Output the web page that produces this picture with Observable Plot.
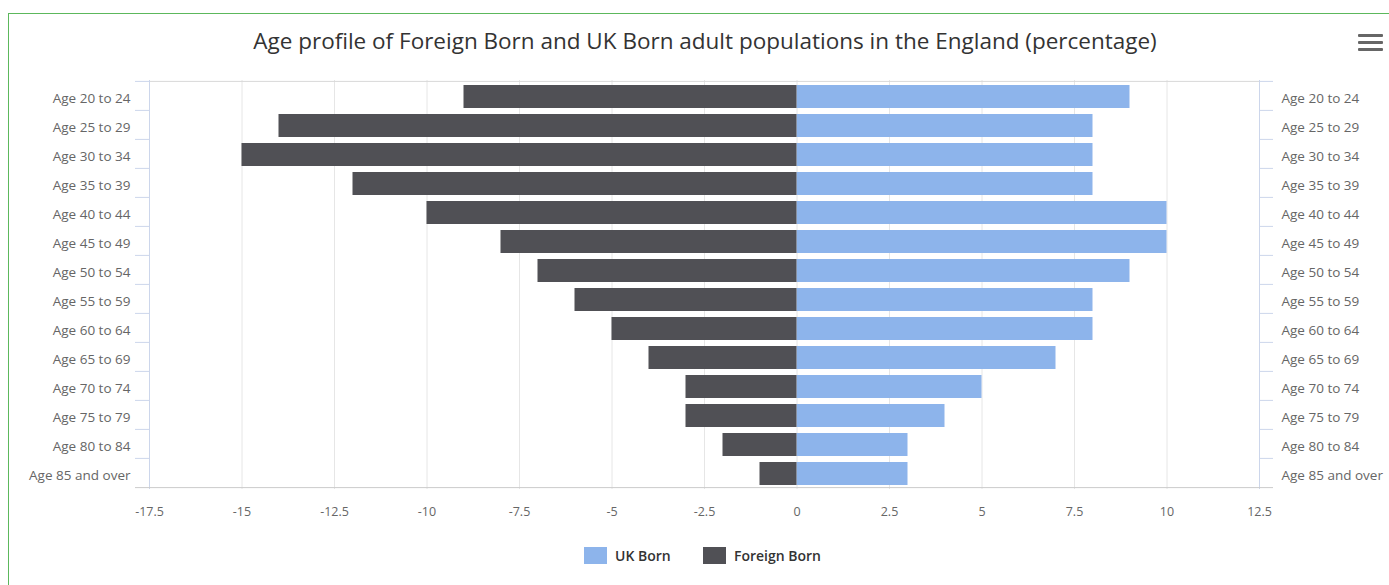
<!DOCTYPE html>
<html>
<head>
<meta charset="utf-8">
<script src="https://cdn.jsdelivr.net/npm/d3@7"></script>
<script src="https://cdn.jsdelivr.net/npm/@observablehq/plot@0.6"></script>
<style>
  html, body { margin: 0; padding: 0; background: #fff; }
  body { width: 1389px; height: 585px; position: relative; overflow: hidden; font-family: "Open Sans", "Liberation Sans", sans-serif; }
  #frame { position: absolute; left: 8px; top: 13px; width: 1400px; height: 600px; border: 1.5px solid #5cb85c; box-sizing: border-box; }
  #title { position: absolute; left: 0; width: 1410px; top: 25px; text-align: center; font-size: 22.5px; color: #333; white-space: nowrap; }
  #chart { position: absolute; left: 0; top: 0; }
  #menu { position: absolute; left: 1358px; top: 34px; width: 25px; }
  #menu div { height: 3px; background: #666; margin-bottom: 4px; border-radius: 1px; }
  #legend { position: absolute; top: 546px; left: 0; width: 1389px; height: 20px; }
  .item { position: absolute; top: 0; display: flex; align-items: center; font-size: 14px; font-weight: 600; color: #333; }
  .sw { width: 23px; height: 17px; margin-right: 8px; }
</style>
</head>
<body>
<div id="frame"></div>
<div id="chart"></div>
<div id="title">Age profile of Foreign Born and UK Born adult populations in the England (percentage)</div>
<div id="menu"><div></div><div></div><div></div></div>
<div id="legend"></div>
<script>
const categories = ["Age 20 to 24","Age 25 to 29","Age 30 to 34","Age 35 to 39","Age 40 to 44","Age 45 to 49","Age 50 to 54","Age 55 to 59","Age 60 to 64","Age 65 to 69","Age 70 to 74","Age 75 to 79","Age 80 to 84","Age 85 and over"];
const ukBorn = [9, 8, 8, 8, 10, 10, 9, 8, 8, 7, 5, 4, 3, 3];
const foreignBorn = [-9, -14, -15, -12, -10, -8, -7, -6, -5, -4, -3, -3, -2, -1];
const xTicks = [-17.5, -15, -12.5, -10, -7.5, -5, -2.5, 0, 2.5, 5, 7.5, 10, 12.5];
const seriesNames = ["UK Born", "Foreign Born"];
const seriesColors = ["#8db4eb", "#505055"];

const W = 1389, H = 540;
const mTop = 80, mBottom = H - 489, mLeft = 149, mRight = W - 1259;
const step = (489 - 80) / categories.length;
const pxPerUnit = (1259 - 149) / 30;
const tickLen = 14 / pxPerUnit;

const rows = [];
categories.forEach((c, i) => {
  rows.push({age: c, series: seriesNames[0], value: ukBorn[i]});
  rows.push({age: c, series: seriesNames[1], value: foreignBorn[i]});
});

const chart = Plot.plot({
  width: W, height: H,
  marginTop: mTop, marginBottom: mBottom, marginLeft: mLeft, marginRight: mRight,
  style: {fontFamily: "'Open Sans', 'Liberation Sans', sans-serif", fontSize: "12px", color: "#666", background: "transparent"},
  x: {domain: [-17.5, 12.5], ticks: xTicks},
  y: {domain: categories, paddingInner: 0.2, paddingOuter: 0.1},
  color: {domain: seriesNames, range: seriesColors},
  marks: [
    Plot.ruleX(xTicks.slice(1, -1), {stroke: "#e6e6e6", strokeWidth: 1}),
    Plot.ruleY([categories[0]], {x1: -17.5, x2: 12.5, dy: -step / 2, stroke: "#d8d8d8"}),
    Plot.barX(rows, {x1: 0, x2: "value", y: "age", fill: "series", dy: 1}),
    Plot.ruleX([-17.5, 12.5], {stroke: "#ccd6eb", strokeWidth: 1}),
    Plot.ruleY(categories, {x1: -17.5 - tickLen, x2: -17.5, dy: -step / 2, stroke: "#ccd6eb"}),
    Plot.ruleY(categories, {x1: 12.5, x2: 12.5 + tickLen, dy: -step / 2, stroke: "#ccd6eb"}),
    Plot.ruleY([categories[categories.length - 1]], {x1: -17.5 - tickLen, x2: 12.5 + tickLen, dy: step / 2, stroke: "#cccccc"}),
    Plot.axisY({anchor: "left", tickSize: 0, tickPadding: 19, dy: 3, label: null, fill: "#666", fontSize: 13.5}),
    Plot.axisY({anchor: "right", tickSize: 0, tickPadding: 22, dy: 3, label: null, fill: "#666", fontSize: 13.5}),
    Plot.axisX({ticks: xTicks, tickSize: 0, tickPadding: 18, label: null, fill: "#666", fontSize: 12.5, tickFormat: d => String(d)})
  ]
});
document.getElementById("chart").appendChild(chart);

const legend = document.getElementById("legend");
const lefts = [584, 703];
seriesNames.forEach((s, i) => {
  const it = document.createElement("div");
  it.className = "item";
  it.style.left = lefts[i] + "px";
  it.innerHTML = `<span class="sw" style="background:${seriesColors[i]}"></span><span>${s}</span>`;
  legend.appendChild(it);
});
</script>
</body>
</html>
